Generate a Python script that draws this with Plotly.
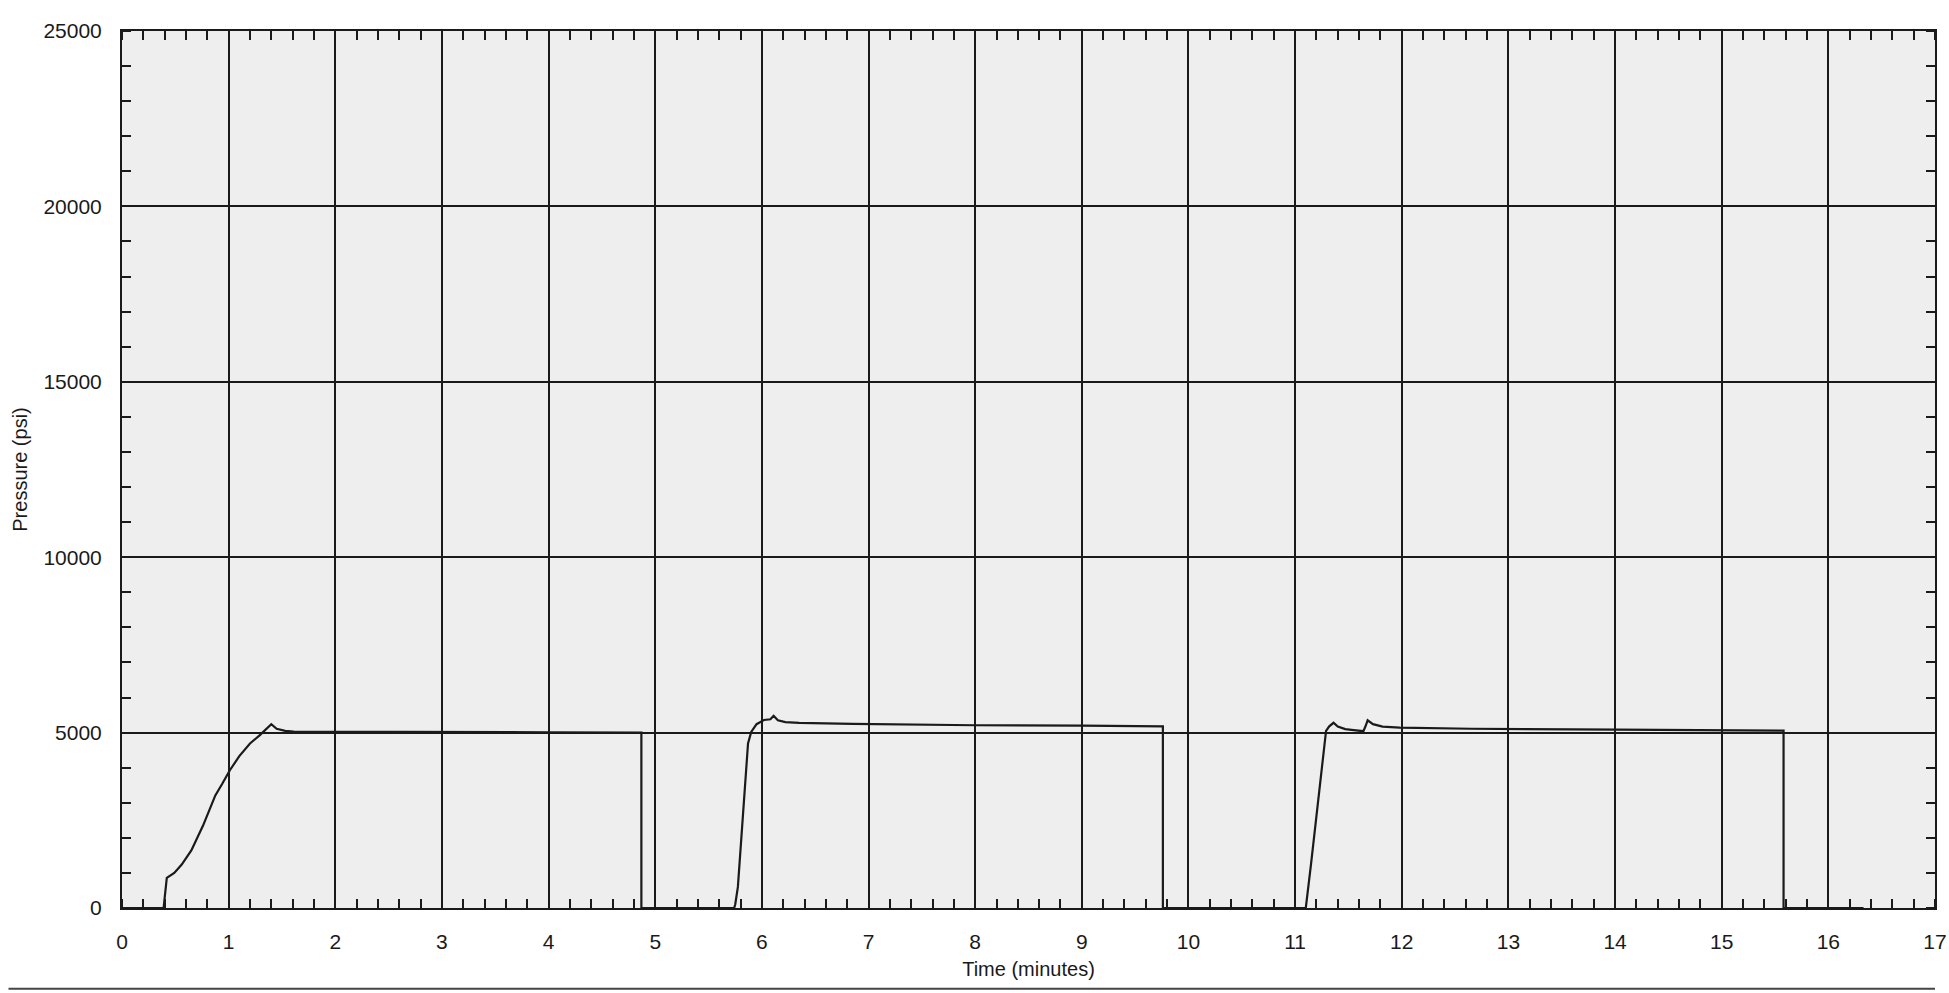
import plotly.graph_objects as go

# Pressure trace (time in minutes, pressure in psi)
time_min = [0.00, 0.39, 0.42, 0.49, 0.56, 0.65, 0.76, 0.875, 0.94, 1.01, 1.10, 1.20, 1.29,
            1.40, 1.45, 1.53, 1.61, 2.00, 3.00, 4.00, 4.87, 4.87,
            5.74, 5.75, 5.775, 5.81, 5.85, 5.87, 5.90, 5.95, 6.02, 6.08, 6.11, 6.15, 6.22,
            6.35, 6.85, 8.00, 9.00, 9.76, 9.76,
            11.10, 11.15, 11.19, 11.23, 11.27, 11.29, 11.32, 11.36, 11.40, 11.47, 11.55,
            11.64, 11.66, 11.68, 11.73, 11.82, 11.98, 12.65, 14.02, 14.98, 15.58, 15.58,
            16.33]
pressure_psi = [0, 0, 857, 1000, 1240, 1640, 2350, 3210, 3540, 3920, 4330, 4690, 4920,
                5240, 5110, 5050, 5030, 5030, 5020, 5010, 5000, 0,
                0, 100, 600, 2020, 3730, 4690, 5020, 5240, 5360, 5380, 5480, 5350, 5300,
                5280, 5250, 5210, 5200, 5180, 0,
                0, 1270, 2400, 3540, 4580, 5050, 5180, 5280, 5170, 5100, 5070,
                5040, 5180, 5350, 5240, 5170, 5140, 5110, 5085, 5075, 5055, 0,
                0]

x_tick_vals = list(range(0, 18))
y_tick_vals = [0, 5000, 10000, 15000, 20000, 25000]
x_title = "Time (minutes)"
y_title = "Pressure (psi)"

FONT = "Liberation Sans, Arial, sans-serif"
INK = "#1a1a1a"

fig = go.Figure()
fig.add_trace(go.Scatter(
    x=time_min, y=pressure_psi, mode="lines",
    line=dict(color=INK, width=2.2), showlegend=False, hoverinfo="x+y",
))

axis_common = dict(
    showline=True, linecolor=INK, linewidth=2, mirror="allticks",
    showgrid=True, gridcolor=INK, gridwidth=1.5, zeroline=False,
    ticks="", tickfont=dict(family=FONT, size=21, color=INK),
    ticklabeloverflow="allow",
)

fig.update_xaxes(
    **axis_common,
    range=[0, 17], tickvals=x_tick_vals, ticktext=[str(v) for v in x_tick_vals],
    minor=dict(dtick=0.2, tick0=0, ticks="inside", ticklen=9, tickwidth=1.5,
               tickcolor=INK, showgrid=False),
    ticklabelstandoff=14,
    title=dict(text=x_title, font=dict(family=FONT, size=20, color=INK), standoff=10),
)
fig.update_yaxes(
    **axis_common,
    range=[0, 25000], tickvals=y_tick_vals, ticktext=[str(v) for v in y_tick_vals],
    minor=dict(dtick=1000, tick0=0, ticks="inside", ticklen=9, tickwidth=1.5,
               tickcolor=INK, showgrid=False),
    ticklabelstandoff=14,
    title=dict(text=y_title, font=dict(family=FONT, size=20, color=INK), standoff=10),
)

fig.update_layout(
    width=1949, height=993,
    margin=dict(l=122, r=14, t=31, b=85, autoexpand=False),
    paper_bgcolor="white", plot_bgcolor="#eeeeee",
    font=dict(family=FONT, color=INK),
    showlegend=False,
)

# scanned page edge line at the bottom
fig.add_shape(type="line", xref="paper", yref="paper", x0=-0.0626, x1=1.0, y0=-0.092, y1=-0.092,
              line=dict(color="#444444", width=2))

fig.write_html(
    "out.html",
    config={"displayModeBar": False},
    post_script="document.body.style.margin='0';document.body.style.overflow='hidden';",
)
